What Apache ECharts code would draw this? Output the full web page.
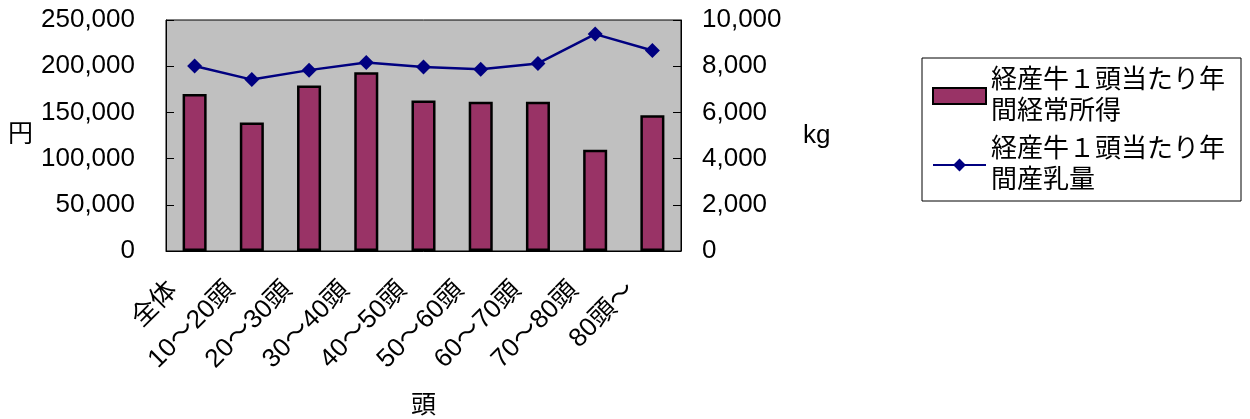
<!DOCTYPE html>
<html><head><meta charset="utf-8">
<script src="https://cdn.jsdelivr.net/npm/echarts@6/dist/echarts.min.js"></script>
<style>html,body{margin:0;padding:0;background:#fff}#c{width:1250px;height:419px}</style>
</head><body><div id="c"></div>
<script>
const categories = ['全体','10～20頭','20～30頭','30～40頭','40～50頭','50～60頭','60～70頭','70～80頭','80頭～'];
const incomeValues = [170000,139000,179000,193500,163000,161500,161500,109500,147000];
const milkValues = [8010,7420,7830,8160,7970,7870,8120,9390,8680];
const incomeName = '経産牛１頭当たり年\n間経常所得';
const milkName = '経産牛１頭当たり年\n間産乳量';
const FONT = '"Liberation Sans","Noto Sans CJK JP",sans-serif';
const chart = echarts.init(document.getElementById('c'));
chart.setOption({
  animation:false,
  textStyle:{fontFamily:FONT,color:'#000'},
  grid:{left:166,right:569,top:20,bottom:168,outerBoundsMode:'none',containLabel:false,show:true,backgroundColor:'#c0c0c0',borderColor:'#000',borderWidth:1},
  legend:{
    orient:'vertical',left:922,top:58,
    padding:[7,16,5,10],itemGap:7,itemWidth:53,itemHeight:16,
    borderColor:'#000',borderWidth:1,
    textStyle:{fontSize:26,lineHeight:31,color:'#000',fontFamily:FONT},
    data:[{name:incomeName,icon:'rect'},{name:milkName}]
  },
  xAxis:{
    type:'category',data:categories,
    name:'頭',nameLocation:'middle',nameGap:143,
    nameTextStyle:{fontSize:25,fontFamily:FONT,color:'#000'},
    axisLine:{lineStyle:{color:'#000'}},
    axisTick:{inside:true,length:8,lineStyle:{color:'#000'}},
    axisLabel:{rotate:45,fontSize:26,color:'#000',margin:14,interval:0,fontFamily:FONT,padding:[0,30,0,0]}
  },
  yAxis:[{
    type:'value',min:0,max:250000,interval:50000,
    name:'円',nameLocation:'middle',nameGap:133,nameRotate:0,
    nameTextStyle:{fontSize:25,fontFamily:FONT,color:'#000'},
    axisLine:{show:true,lineStyle:{color:'#000'}},
    axisTick:{show:true,inside:true,length:8,lineStyle:{color:'#000'}},
    splitLine:{show:false},
    axisLabel:{fontSize:26,color:'#000',margin:31,formatter:v=>v.toLocaleString('en-US')}
  },{
    type:'value',min:0,max:10000,interval:2000,
    name:'kg',nameLocation:'middle',nameGap:122,nameRotate:0,
    nameTextStyle:{fontSize:26,color:'#000'},
    axisLine:{show:true,lineStyle:{color:'#000'}},
    axisTick:{show:true,inside:true,length:8,lineStyle:{color:'#000'}},
    splitLine:{show:false},
    axisLabel:{fontSize:26,color:'#000',margin:21,formatter:v=>v.toLocaleString('en-US')}
  }],
  series:[{
    name:incomeName,type:'bar',data:incomeValues,barWidth:'42%',yAxisIndex:0,
    itemStyle:{color:'#993366',borderColor:'#000',borderWidth:2.5}
  },{
    name:milkName,type:'line',data:milkValues,yAxisIndex:1,
    symbol:'diamond',symbolSize:15,
    lineStyle:{color:'#000080',width:2.5},itemStyle:{color:'#000080'}
  }]
});
</script></body></html>
